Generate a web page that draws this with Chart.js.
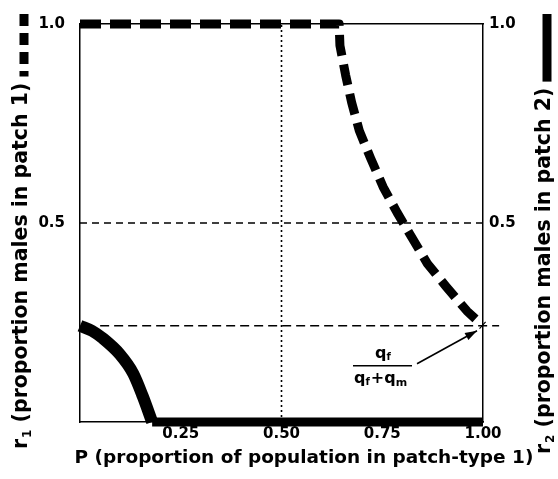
<!DOCTYPE html>
<html>
<head>
<meta charset="utf-8">
<script src="https://cdn.jsdelivr.net/npm/chart.js@4.4.0/dist/chart.umd.min.js"></script>
<style>
  html, body { margin: 0; padding: 0; background: #fff; }
  #wrap { width: 558px; height: 479px; }
</style>
</head>
<body>
<div id="wrap"><canvas id="chart" width="558" height="479"></canvas></div>
<script>
// r1, proportion males in patch 1 (thick dashed)
const patch1P = [0, 0.643, 0.645, 0.659, 0.674, 0.693, 0.721, 0.752, 0.787, 0.825, 0.862, 0.908, 0.960, 1.0];
const patch1R = [1.0, 1.0, 0.946, 0.872, 0.803, 0.732, 0.663, 0.591, 0.526, 0.461, 0.398, 0.341, 0.279, 0.242];
// r2, proportion males in patch 2 (thick solid)
const patch2P = [0, 0.030, 0.057, 0.099, 0.132, 0.156, 0.179];
const patch2R = [0.242, 0.229, 0.210, 0.170, 0.122, 0.064, 0];
const floorP = [0.179, 1.0];
const floorR = [0, 0];
// q_f / (q_f + q_m) level
const qRatio = 0.242;
const qLineP = [0.05, 1.04];
// reference lines
const halfLineP = [0, 1];
const halfLevel = 0.5;
const midP = 0.5;

const xTicks = [0.25, 0.50, 0.75, 1.00];
const yTicks = [0.5, 1.0];

const xTitle = 'P (proportion of population in patch-type 1)';
const leftTitleRest = ' (proportion males in patch 1)';
const rightTitleRest = ' (proportion males in patch 2)';

const FONT = '"DejaVu Sans", sans-serif';
const INK = '#000';

const pts = (xs, ys) => xs.map((x, i) => ({ x: x, y: ys[i] }));

function sideTitle(ctx, cx, startY, sub, rest, dashed) {
    ctx.save();
    ctx.translate(cx, startY);
    ctx.rotate(-Math.PI / 2);
    ctx.textBaseline = 'middle';
    ctx.textAlign = 'left';
    ctx.font = 'bold 20.5px ' + FONT;
    ctx.fillText('r', 0, 0);
    let x = ctx.measureText('r').width + 1;
    ctx.font = 'bold 12px ' + FONT;
    ctx.fillText(sub, x, 6);
    x += ctx.measureText(sub).width;
    ctx.font = 'bold 20.5px ' + FONT;
    ctx.fillText(rest, x, 0);
    x += ctx.measureText(rest).width;
    // legend marker after the text
    ctx.lineWidth = 9;
    ctx.lineCap = 'butt';
    ctx.setLineDash(dashed ? [12, 7] : []);
    ctx.beginPath();
    ctx.moveTo(startY - 14, 2);
    ctx.lineTo(x + 6, 2);
    ctx.stroke();
    ctx.restore();
}

const decorations = {
    id: 'decorations',
    afterDraw(chart) {
        const ctx = chart.ctx;
        const xs = chart.scales.x, ys = chart.scales.y;
        ctx.save();
        ctx.fillStyle = INK;
        ctx.strokeStyle = INK;

        // x axis title
        ctx.font = 'bold 18.5px ' + FONT;
        ctx.textAlign = 'center';
        ctx.textBaseline = 'middle';
        ctx.fillText(xTitle, 304, 458);

        // rotated side titles with line markers
        sideTitle(ctx, 22, 449, '1', leftTitleRest, true);
        sideTitle(ctx, 545, 454, '2', rightTitleRest, false);

        // fraction label and arrow to the q point
        const tx = xs.getPixelForValue(1), ty = ys.getPixelForValue(qRatio);
        const fx = tx - 100, fy = ty + 40;
        ctx.lineWidth = 1.5;
        ctx.setLineDash([]);
        ctx.beginPath();
        ctx.moveTo(fx - 30, fy);
        ctx.lineTo(fx + 29, fy);
        ctx.stroke();

        ctx.textBaseline = 'alphabetic';
        ctx.textAlign = 'left';
        ctx.font = 'bold 16px ' + FONT;
        const qw = ctx.measureText('q').width;
        ctx.fillText('q', fx - 8, fy - 8);
        ctx.font = 'bold 10px ' + FONT;
        ctx.fillText('f', fx - 8 + qw, fy - 6);

        // denominator q_f + q_m
        let dx = fx - 29;
        ctx.font = 'bold 16px ' + FONT;
        ctx.fillText('q', dx, fy + 17); dx += qw;
        ctx.font = 'bold 10px ' + FONT;
        ctx.fillText('f', dx, fy + 19); dx += ctx.measureText('f').width + 1;
        ctx.font = 'bold 16px ' + FONT;
        ctx.fillText('+q', dx, fy + 17); dx += ctx.measureText('+q').width;
        ctx.font = 'bold 11px ' + FONT;
        ctx.fillText('m', dx, fy + 20);

        // arrow
        const ax0 = tx - 66, ay0 = ty + 38, ax1 = tx - 6, ay1 = ty + 5;
        ctx.lineWidth = 1.6;
        ctx.beginPath();
        ctx.moveTo(ax0, ay0);
        ctx.lineTo(ax1, ay1);
        ctx.stroke();
        const ang = Math.atan2(ay1 - ay0, ax1 - ax0);
        ctx.beginPath();
        ctx.moveTo(ax1, ay1);
        ctx.lineTo(ax1 - 12 * Math.cos(ang) + 4 * Math.sin(ang), ay1 - 12 * Math.sin(ang) - 4 * Math.cos(ang));
        ctx.lineTo(ax1 - 12 * Math.cos(ang) - 4 * Math.sin(ang), ay1 - 12 * Math.sin(ang) + 4 * Math.cos(ang));
        ctx.closePath();
        ctx.fill();
        ctx.restore();
    }
};

const tickFont = { family: FONT, size: 15, weight: 'bold' };
const border = { display: true, color: INK, width: 1.5 };
const noGrid = { display: false, drawTicks: false };

new Chart(document.getElementById('chart'), {
    type: 'line',
    data: {
        datasets: [
            {   // dotted vertical at P = 0.5
                data: pts([midP, midP], [0, 1]),
                borderColor: INK, borderWidth: 1.6, borderDash: [2, 3]
            },
            {   // dashed horizontal at r = 0.5
                data: pts(halfLineP, [halfLevel, halfLevel]),
                borderColor: INK, borderWidth: 1.5, borderDash: [7, 5]
            },
            {   // q_f/(q_f+q_m) level
                data: pts(qLineP, [qRatio, qRatio]),
                borderColor: INK, borderWidth: 1.5, borderDash: [9, 5]
            },
            {   // r1
                data: pts(patch1P, patch1R),
                borderColor: INK, borderWidth: 9, borderDash: [21, 9],
                borderCapStyle: 'butt', borderJoinStyle: 'round', tension: 0
            },
            {   // r2 curve
                data: pts(patch2P, patch2R),
                borderColor: INK, borderWidth: 12,
                cubicInterpolationMode: 'monotone', borderCapStyle: 'butt'
            },
            {   // r2 = 0
                data: pts(floorP, floorR),
                borderColor: INK, borderWidth: 9, borderCapStyle: 'butt'
            }
        ]
    },
    options: {
        responsive: false,
        animation: false,
        events: [],
        clip: false,
        layout: { padding: 0 },
        elements: { point: { radius: 0 }, line: { fill: false } },
        plugins: { legend: { display: false }, tooltip: { enabled: false }, title: { display: false } },
        scales: {
            x: {
                type: 'linear', position: 'bottom', min: 0, max: 1,
                grid: noGrid, border: border,
                afterBuildTicks: s => { s.ticks = xTicks.map(v => ({ value: v })); },
                afterFit: s => { s.height = 57; },
                ticks: { color: INK, font: tickFont, padding: 3, maxRotation: 0,
                         callback: v => Number(v).toFixed(2) }
            },
            x2: {
                type: 'linear', position: 'top', min: 0, max: 1,
                grid: noGrid, border: border,
                ticks: { display: false },
                afterFit: s => { s.height = 21; }
            },
            y: {
                type: 'linear', position: 'left', min: 0, max: 1,
                grid: noGrid, border: border,
                afterBuildTicks: s => { s.ticks = yTicks.map(v => ({ value: v })); },
                afterFit: s => { s.width = 80; },
                ticks: { color: INK, font: tickFont, padding: 15,
                         callback: v => Number(v).toFixed(1) }
            },
            y2: {
                type: 'linear', position: 'right', min: 0, max: 1,
                grid: noGrid, border: border,
                afterBuildTicks: s => { s.ticks = yTicks.map(v => ({ value: v })); },
                afterFit: s => { s.width = 75; },
                ticks: { color: INK, font: tickFont, padding: 6,
                         callback: v => Number(v).toFixed(1) }
            }
        }
    },
    plugins: [decorations]
});
</script>
</body>
</html>
